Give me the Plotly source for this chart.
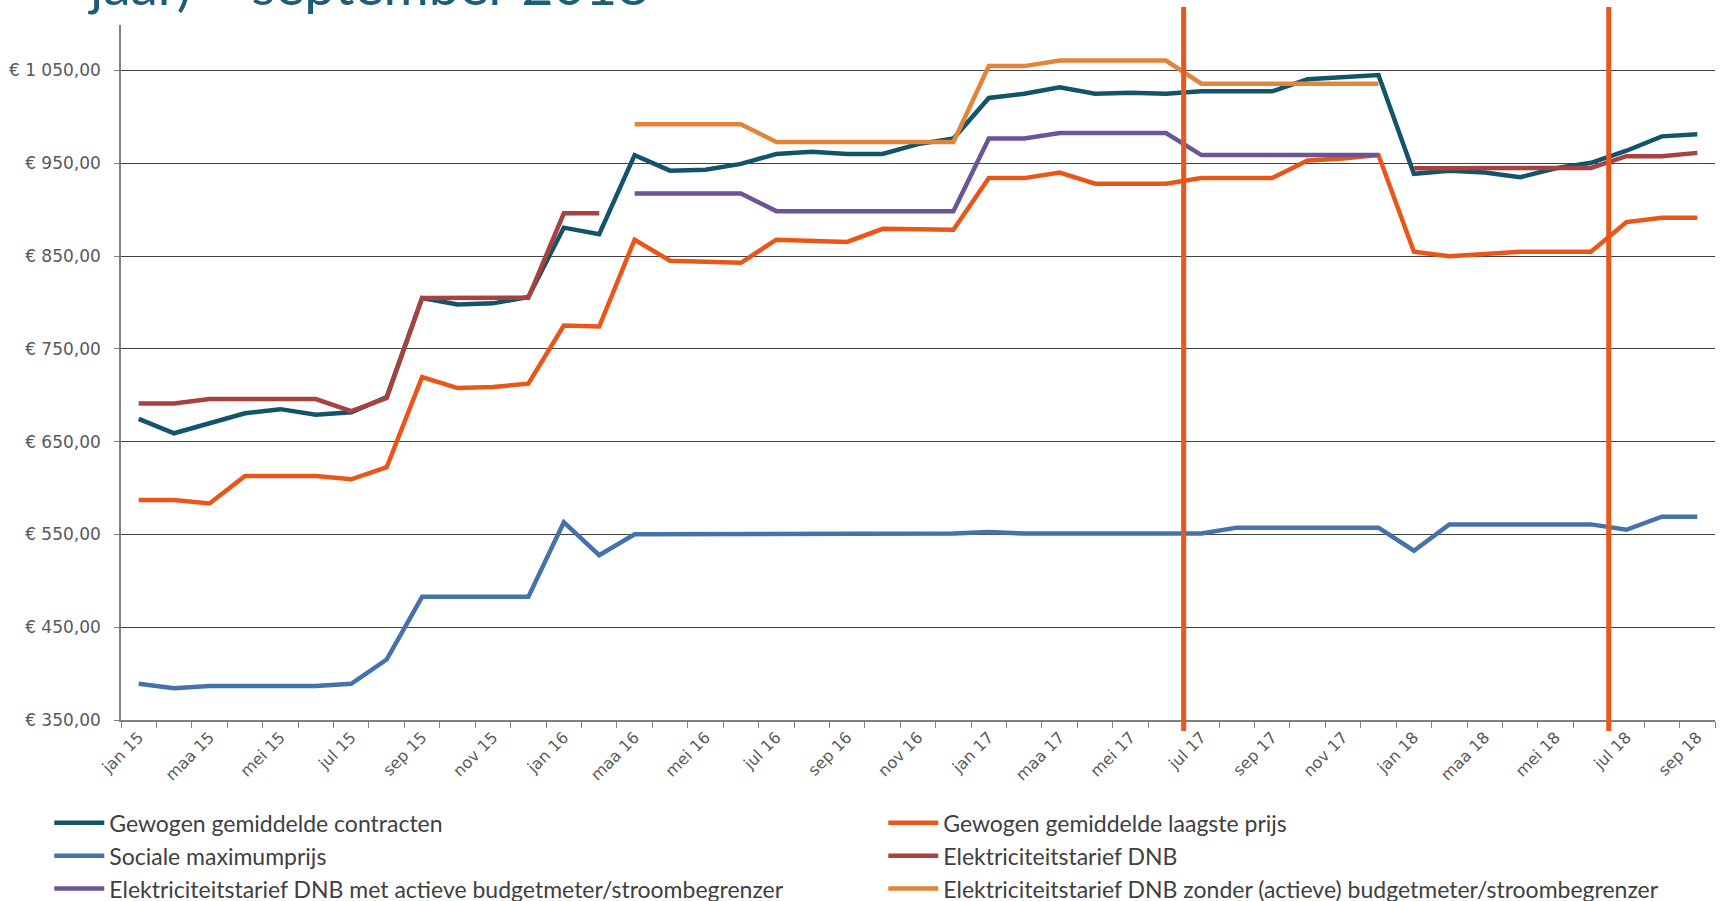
import plotly.graph_objects as go

months = ["jan", "feb", "maa", "apr", "mei", "jun", "jul", "aug", "sep", "okt", "nov", "dec"]
years = ["15", "16", "17", "18"]
categories = [f"{m} {y}" for y in years for m in months][:45]
tick_labels = [c if i % 2 == 0 else "" for i, c in enumerate(categories)]

contracten = [674.5, 659, 669.8, 680.5, 685, 679, 681.6, 698,
              804.8, 797.7, 799, 806, 880.6, 873.5,
              958.8, 942, 943, 949.3, 960, 962.4, 960, 960, 970.6, 976.6,
              1020.4, 1025, 1032, 1025, 1026, 1025, 1027.5, 1027.5, 1027.5, 1040.5, 1043, 1045,
              938.7, 942, 940, 935, 944.6, 950.5, 963.5, 979, 981.3]
laagste = [587, 587, 583.3, 613, 613, 613, 609.4, 622.4,
           719.5, 707.7, 708.9, 712.4, 775.2, 774,
           867.6, 845, 843.9, 842.7, 867.6, 866.4, 865.2, 879.4, 878.3, 878.3,
           934, 934, 940, 928, 928, 928, 934, 934, 934, 953, 955, 958.8,
           854.6, 849.8, 852.2, 854.6, 854.6, 854.6, 886.6, 891.3, 891.3]
sociaal = [389, 384.3, 386.7, 386.7, 386.7, 386.7, 389, 415.2,
           482.7, 482.7, 482.7, 482.7, 563.2, 527.7,
           550.2, 550.2, 550.2, 550.2, 550.2, 551, 551, 551, 551, 551,
           552.5, 551, 551, 551, 551, 551, 551, 557.3, 557.3, 557.3, 557.3, 557.3,
           532.4, 560.8, 560.8, 560.8, 560.8, 560.8, 555, 569.1, 569.1]
dnb = [691.1, 691.1, 695.9, 695.9, 695.9, 695.9, 682.8, 697,
       804.8, 805, 805, 805, 896, 896] + [None] * 22 + \
      [944.6, 944.6, 945, 945, 945, 945, 957.6, 957.6, 961.2]
dnb_met = [None] * 14 + \
          [917.3, 917.3, 917.3, 917.3, 898.4, 898.4, 898.4, 898.4, 898.4, 898.4,
           976.6, 976.6, 982.5, 982.5, 982.5, 982.5, 958.8, 958.8, 958.8, 958.8, 958.8, 958.8] + \
          [None] * 9
dnb_zonder = [None] * 14 + \
             [992, 992, 992, 992, 973, 973, 973, 973, 973, 973,
              1054.7, 1054.7, 1060.7, 1060.7, 1060.7, 1060.7, 1035.8, 1035.8, 1035.8, 1035.8, 1035.8, 1035.8] + \
             [None] * 9

series_names = ["Gewogen gemiddelde contracten", "Gewogen gemiddelde laagste prijs",
                "Sociale maximumprijs", "Elektriciteitstarief DNB",
                "Elektriciteitstarief DNB met actieve budgetmeter/stroombegrenzer",
                "Elektriciteitstarief DNB zonder (actieve) budgetmeter/stroombegrenzer"]
series_values = [contracten, laagste, sociaal, dnb, dnb_met, dnb_zonder]
colors = ["#12546A", "#E95618", "#4472AA", "#A8423E", "#6B5596", "#E0853A"]

marker_positions = [29.5, 41.5]  # boundaries jun/jul 17 and jun/jul 18
title_text = "jaar) – september 2018"

fig = go.Figure()
for name, vals, col in zip(series_names, series_values, colors):
    fig.add_trace(go.Scatter(x=categories, y=vals, name=name, mode="lines",
                             line=dict(color=col, width=4.5), connectgaps=False))

for xp in marker_positions:
    fig.add_shape(type="line", xref="x", yref="paper", x0=xp, x1=xp, y0=-0.016, y1=1.026,
                  line=dict(color="#E8561C", width=5), layer="above")

fig.add_annotation(text=title_text, xref="paper", yref="paper", x=-0.022, y=1.0093,
                   xanchor="left", yanchor="bottom", showarrow=False,
                   font=dict(family="Lato", size=55, color="#1B5E75"))

fig.update_layout(
    width=1724, height=901,
    margin=dict(l=121, r=9, t=25, b=181, autoexpand=False),
    plot_bgcolor="white", paper_bgcolor="white",
    font=dict(family="DejaVu Sans", size=15, color="#595959"),
    showlegend=True,
    legend=dict(orientation="h", x=-0.045, y=-0.117, xanchor="left", yanchor="top",
                entrywidth=769, entrywidthmode="pixels", traceorder="normal",
                font=dict(family="Lato", size=23, color="#404040"),
                itemwidth=50, tracegroupgap=0),
)
fig.update_xaxes(type="category", tickmode="array", tickvals=categories, ticktext=tick_labels,
                 tickson="boundaries", ticks="outside", ticklen=6, tickcolor="#7F7F7F",
                 tickangle=-45, showline=True, linecolor="#7F7F7F", linewidth=1.5,
                 showgrid=False, range=[-0.5, 44.5],
                 tickfont=dict(family="DejaVu Sans", size=16, color="#595959"))
fig.update_yaxes(range=[350, 1099], tick0=350, dtick=100, tickformat=",.2f",
                 tickprefix="€ ", separatethousands=True,
                 showgrid=True, gridcolor="#404040", gridwidth=1,
                 showline=True, linecolor="#7F7F7F", linewidth=1.5,
                 ticks="outside", ticklen=5, tickcolor="#7F7F7F", zeroline=False,
                 ticklabelstandoff=10,
                 tickfont=dict(family="DejaVu Sans", size=17, color="#595959"))
fig.update_layout(separators=", ")

fig.write_html("out.html", config={"displayModeBar": False},
               post_script="document.body.style.margin='0';")
